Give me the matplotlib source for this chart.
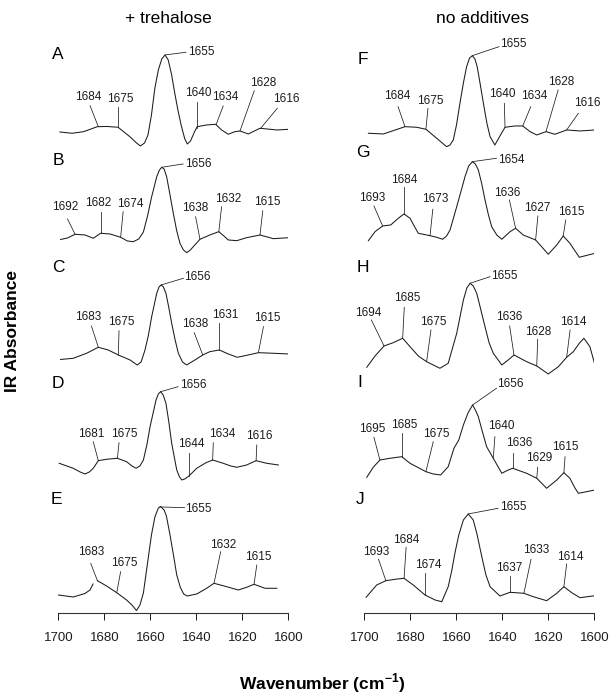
import numpy as np
import matplotlib
matplotlib.use('Agg')
from matplotlib import pyplot as plt

plt.rcParams['font.family'] = ['Liberation Sans', 'DejaVu Sans']
plt.rcParams['mathtext.fontset'] = 'custom'
plt.rcParams['mathtext.rm'] = 'Liberation Sans'
plt.rcParams['mathtext.bf'] = 'Liberation Sans:bold'

nan = np.nan

# ---- spectra (wavenumber, absorbance a.u.) ----
# + trehalose
A_wn = [1699.3, 1694, 1689, 1683, 1679, 1674, 1669, 1666, 1664.3, 1662.5, 1661, 1659.5, 1658, 1656.5, 1655,
        1653.6, 1652.2, 1650.8, 1649.3, 1648, 1646.5, 1645, 1643.9, 1642.5, 1640.8, 1639.6, 1635.5, 1631.6,
        1629, 1626.1, 1623.2, 1621, 1617.4, 1612.3, 1605, 1599.5]
A_abs = [-0.02, -0.033, -0.017, 0.033, 0.035, 0.027, -0.065, -0.13, -0.16, -0.13, -0.05, 0.15, 0.42, 0.6, 0.71,
         0.75, 0.70, 0.56, 0.36, 0.20, 0.04, -0.09, -0.14, -0.11, -0.02, 0.033, 0.05, 0.057,
         0.0, -0.043, -0.017, -0.01, -0.04, 0.017, 0.0, 0.007]

B_wn = [1699, 1696, 1692.7, 1688.4, 1684.8, 1681.6, 1677.5, 1672.9, 1670, 1667.4, 1665, 1663, 1661.2, 1659.4,
        1657.2, 1656, 1655, 1654, 1652.9, 1651.5, 1650, 1648.5, 1647.1, 1645.6, 1644.2, 1642.8, 1641.3,
        1638.4, 1634.1, 1630.2, 1628, 1626.1, 1622.4, 1618.1, 1612.3, 1606.5, 1599.5]
B_abs = [-0.015, 0.0, 0.037, 0.03, -0.003, 0.047, 0.04, 0.007, -0.03, -0.037, -0.01, 0.06, 0.22, 0.413,
         0.613, 0.68, 0.707, 0.69, 0.613, 0.44, 0.247, 0.07, -0.053, -0.12, -0.147, -0.125, -0.087,
         -0.013, 0.03, 0.063, 0.02, -0.02, -0.027, 0.003, 0.03, -0.007, 0.003]

C_wn = [1699, 1693.5, 1687.7, 1682.6, 1678.3, 1673.9, 1668.8, 1665.7, 1664, 1662.3, 1660.8, 1659.4, 1657.2,
        1656.2, 1655.3, 1654.3, 1653.2, 1652, 1650.7, 1649.2, 1647.8, 1646, 1644.2, 1640.6, 1637.2, 1634.1,
        1630.0, 1626.1, 1622.2, 1617.4, 1613.0, 1606.5, 1599.7]
C_abs = [-0.045, -0.033, 0.017, 0.077, 0.05, 0.0, -0.05, -0.10, -0.07, 0.05, 0.2, 0.383, 0.617,
         0.68, 0.70, 0.68, 0.617, 0.48, 0.317, 0.15, 0.017, -0.07, -0.10, -0.05, 0.0, 0.033,
         0.05, 0.01, -0.023, 0.0, 0.023, 0.017, 0.01]

D_wn = [1699.6, 1693.5, 1690.5, 1688.4, 1686.5, 1684.8, 1682.6, 1679.0, 1674.3, 1670.3, 1668, 1666.2, 1664.5,
        1663.0, 1661.5, 1660.1, 1657.5, 1656.5, 1655.5, 1654.4, 1653.2, 1652, 1650.7, 1649.5, 1648.5, 1647.3,
        1646.3, 1645, 1643.2, 1639.8, 1636, 1632.9, 1628.3, 1625, 1622.4, 1618.1, 1614.0, 1609.4, 1604.3]
D_abs = [-0.003, -0.053, -0.09, -0.11, -0.09, -0.053, 0.023, 0.037, 0.047, 0.013, -0.03, -0.053, -0.03,
         0.03, 0.18, 0.363, 0.63, 0.69, 0.713, 0.68, 0.597, 0.42, 0.197, 0.05, -0.07, -0.14,
         -0.17, -0.16, -0.13, -0.053, 0.0, 0.03, -0.003, -0.03, -0.043, -0.02, 0.023, -0.003, -0.02]

E_wn = [1700, 1693.5, 1688.4, 1686.2, 1684.9, 1684.2, 1683.0, 1679, 1674.6, 1670.3, 1668, 1666.0, 1664.5,
        1663, 1661.5, 1659.5, 1658, 1656.5, 1655.5, 1654, 1653, 1651.5, 1650, 1648.5, 1647, 1645.5, 1644,
        1639.8, 1635.5, 1632.3, 1626.8, 1621.7, 1618.1, 1614.9, 1610.1, 1605.0]
E_abs = [-0.05, -0.07, -0.035, 0.0, 0.06, nan, 0.093, 0.04, -0.027, -0.10, -0.15, -0.205, -0.15,
         -0.03, 0.22, 0.55, 0.73, 0.82, 0.835, 0.80, 0.74, 0.56, 0.36, 0.15, 0.03, -0.04, -0.06,
         -0.04, 0.017, 0.067, 0.033, 0.0, 0.027, 0.057, 0.017, 0.017]

# no additives
F_wn = [1698.3, 1691.8, 1687.5, 1682.4, 1677.3, 1673.3, 1668.6, 1664.3, 1662.8, 1661.4, 1660, 1658.5,
        1657, 1655.6, 1654.3, 1653.1, 1652, 1651.0, 1649.7, 1648.3, 1646.8, 1645.4, 1643.3, 1641.1,
        1638.9, 1634.6, 1631.2, 1628.0, 1625.1, 1621.1, 1617.2, 1612.1, 1606.3, 1599.8]
F_abs = [-0.033, -0.04, -0.007, 0.033, 0.027, 0.007, -0.083, -0.167, -0.15, -0.10, 0.05, 0.267,
         0.47, 0.633, 0.72, 0.743, 0.71, 0.633, 0.46, 0.267, 0.07, -0.067, -0.15, -0.06,
         0.027, 0.04, 0.04, -0.017, -0.05, -0.017, -0.043, 0.0, -0.01, 0.0]

G_wn = [1698.3, 1695.4, 1692.1, 1688.6, 1685.3, 1682.8, 1680.2, 1678.4, 1676.6, 1671.5, 1668.6, 1666.0,
        1664.3, 1662.8, 1659.9, 1658, 1656.3, 1654.7, 1653.1, 1651.8, 1650.5, 1649, 1647.6, 1646.1,
        1644.7, 1642.5, 1640.3, 1636.7, 1634.3, 1631.0, 1625.6, 1623.0, 1620.1, 1616.4, 1613.6,
        1610.7, 1606.6, 1599.8]
G_abs = [-0.027, 0.063, 0.12, 0.13, 0.197, 0.24, 0.197, 0.12, 0.047, 0.023, 0.007, -0.013,
         0.02, 0.08, 0.313, 0.47, 0.613, 0.72, 0.763, 0.74, 0.68, 0.54, 0.38, 0.23,
         0.113, 0.03, -0.013, 0.063, 0.097, 0.03, -0.02, -0.087, -0.163, -0.07, 0.02,
         -0.053, -0.193, -0.153]

H_wn = [1699.0, 1695.4, 1691.5, 1687.5, 1683.4, 1680.2, 1676.6, 1673.0, 1667.2, 1663.6, 1659.9, 1657.0,
        1655.5, 1654.1, 1652.7, 1651.2, 1649.5, 1647.6, 1645.8, 1644.0, 1640.3, 1637.5, 1635.0, 1629.5,
        1625.1, 1620.1, 1615.7, 1612.1, 1609.2, 1606.5, 1604.6, 1602.0, 1599.8]
H_abs = [-0.123, -0.01, 0.09, 0.123, 0.167, 0.083, -0.01, -0.067, -0.133, -0.083, 0.217, 0.55,
         0.67, 0.717, 0.69, 0.617, 0.46, 0.283, 0.12, 0.017, -0.10, -0.05, 0.0, -0.067,
         -0.11, -0.19, -0.117, -0.023, 0.033, 0.12, 0.167, 0.083, -0.10]

I_wn = [1699.0, 1696.2, 1693.3, 1688.9, 1683.8, 1680.2, 1673.3, 1670.1, 1666.9, 1663.6, 1661.1, 1659,
        1657.0, 1655, 1653.0, 1651.8, 1650.5, 1648.7, 1646.9, 1644.0, 1640.3, 1637.5, 1635.6, 1629.5,
        1625.1, 1620.8, 1616.4, 1613.3, 1610.7, 1608.5, 1607.0, 1604.1, 1599.8]
I_abs = [-0.073, 0.027, 0.10, 0.117, 0.133, 0.067, -0.017, -0.04, -0.05, 0.033, 0.217, 0.30,
         0.45, 0.57, 0.65, 0.60, 0.533, 0.38, 0.233, 0.117, -0.033, 0.0, 0.017, -0.033,
         -0.083, -0.183, -0.10, -0.027, -0.083, -0.18, -0.233, -0.22, -0.20]

J_wn = [1699.3, 1694.7, 1690.7, 1686.7, 1682.8, 1678.8, 1673.7, 1669.3, 1666.4, 1663.6, 1662, 1660.7,
        1659, 1657.0, 1654.9, 1652.7, 1651, 1649.0, 1647.2, 1645.4, 1641.1, 1636.7, 1630.7, 1626.6,
        1620.8, 1616.4, 1613.3, 1609.9, 1606.3, 1599.8]
J_abs = [-0.073, 0.05, 0.093, 0.107, 0.117, 0.05, -0.05, -0.10, -0.117, 0.033, 0.2, 0.367,
         0.55, 0.70, 0.76, 0.70, 0.55, 0.333, 0.15, 0.033, -0.06, -0.023, -0.033, -0.067,
         -0.107, -0.033, 0.033, -0.027, -0.077, -0.057]

# ---- peak labels and where their leader lines meet the trace ----
A_peaks = [1684, 1675, 1655, 1640, 1634, 1628, 1616]
A_at = [1682.6, 1673.9, 1653.6, 1639.8, 1631.4, 1621.0, 1612.0]
B_peaks = [1692, 1682, 1674, 1656, 1638, 1632, 1615]
B_at = [1692.7, 1681.6, 1672.9, 1655.0, 1638.4, 1630.2, 1612.3]
C_peaks = [1683, 1675, 1656, 1638, 1631, 1615]
C_at = [1682.6, 1673.9, 1655.3, 1637.2, 1630.0, 1613.0]
D_peaks = [1681, 1675, 1656, 1644, 1634, 1616]
D_at = [1682.6, 1674.3, 1655.5, 1643.2, 1632.9, 1614.0]
E_peaks = [1683, 1675, 1655, 1632, 1615]
E_at = [1683.0, 1674.6, 1655.8, 1632.3, 1614.9]
F_peaks = [1684, 1675, 1655, 1640, 1634, 1628, 1616]
F_at = [1682.4, 1673.3, 1653.1, 1638.9, 1631.2, 1621.1, 1612.1]
G_peaks = [1693, 1684, 1673, 1654, 1636, 1627, 1615]
G_at = [1692.1, 1682.8, 1671.5, 1653.1, 1634.3, 1625.6, 1613.6]
H_peaks = [1694, 1685, 1675, 1655, 1636, 1628, 1614]
H_at = [1691.5, 1683.4, 1673.0, 1654.1, 1635.0, 1625.1, 1612.1]
I_peaks = [1695, 1685, 1675, 1656, 1640, 1636, 1629, 1615]
I_at = [1693.3, 1683.8, 1673.3, 1653.0, 1644.0, 1635.6, 1625.1, 1613.3]
J_peaks = [1693, 1684, 1674, 1655, 1637, 1633, 1614]
J_at = [1690.7, 1682.8, 1673.7, 1654.9, 1636.7, 1630.7, 1613.3]

titles = ['+ trehalose', 'no additives']
tick_vals = [1700, 1680, 1660, 1640, 1620, 1600]

# ---- layout: stacking offsets, leader ends, label centres, letter spots ----
layout = {
    'A': dict(off=4.83, letter=(1700.4, 0.75),
              tops=[(1686.2, .243), (1673.9, .227), (1644.5, .777), (1639.8, .283), (1628.3, .24), (1614.8, .393), (1604.8, .217)],
              txt=[(1687.0, .327), (1673.2, .31), (1643.6, .783), (1639.1, .373), (1627.5, .327), (1610.9, .467), (1600.7, .31)]),
    'B': dict(off=3.75, letter=(1700.0, 0.77),
              tops=[(1696.0, .19), (1681.6, .263), (1671.8, .263), (1645.7, .74), (1640.3, .213), (1629.0, .313), (1611.1, .273)],
              txt=[(1697.0, .313), (1682.6, .347), (1668.6, .34), (1645.0, .74), (1640.3, .297), (1626.1, .387), (1609.1, .363)]),
    'C': dict(off=2.58, letter=(1700.0, 0.877),
              tops=[(1685.6, .29), (1673.6, .243), (1645.6, .767), (1640.9, .223), (1630.0, .323), (1610.8, .283)],
              txt=[(1687.0, .383), (1672.6, .327), (1645.2, .783), (1640.3, .31), (1627.5, .40), (1609.1, .367)]),
    'D': dict(off=1.50, letter=(1700.0, 0.79),
              tops=[(1684.8, .213), (1673.6, .203), (1647.9, .763), (1643.2, .103), (1632.6, .203), (1613.7, .18)],
              txt=[(1685.6, .29), (1671.2, .29), (1647.1, .78), (1642.0, .19), (1628.9, .29), (1612.6, .27)]),
    'E': dict(off=0.23, letter=(1700.7, 0.90),
              tops=[(1685.9, .267), (1672.9, .183), (1645.1, .823), (1629.4, .383), (1613.7, .25)],
              txt=[(1685.9, .383), (1671.4, .273), (1644.7, .81), (1628.5, .45), (1613.0, .327)]),
    'F': dict(off=4.83, letter=(1700.5, 0.70),
              tops=[(1685.4, .233), (1672.4, .217), (1641.5, .833), (1639.2, .267), (1627.7, .233), (1615.8, .40), (1607.0, .167)],
              txt=[(1685.7, .34), (1671.3, .293), (1641.2, .86), (1640.2, .36), (1626.3, .34), (1614.3, .483), (1603.3, .273)]),
    'G': dict(off=3.75, letter=(1700.5, 0.85),
              tops=[(1695.9, .32), (1682.8, .513), (1670.3, .287), (1642.6, .797), (1637.0, .38), (1624.6, .22), (1612.5, .18)],
              txt=[(1696.5, .397), (1682.8, .575), (1669.3, .387), (1641.9, .78), (1637.9, .453), (1625.1, .297), (1610.0, .263)]),
    'H': dict(off=2.58, letter=(1700.8, 0.877),
              tops=[(1697.0, .35), (1682.7, .477), (1671.1, .25), (1645.4, .783), (1636.9, .29), (1624.7, .157), (1610.6, .25)],
              txt=[(1698.5, .417), (1681.5, .567), (1670.2, .333), (1645.1, .79), (1636.9, .383), (1624.3, .233), (1609.1, .333)]),
    'I': dict(off=1.43, letter=(1701.9, 0.873),
              tops=[(1695.9, .327), (1683.8, .373), (1670.1, .283), (1642.6, .817), (1643.3, .333), (1635.6, .173), (1624.7, .027), (1612.8, .133)],
              txt=[(1696.5, .407), (1682.8, .45), (1668.6, .36), (1642.2, .86), (1640.7, .44), (1632.8, .267), (1624.0, .117), (1612.5, .233)]),
    'J': dict(off=0.23, letter=(1701.9, 0.907),
              tops=[(1693.9, .307), (1681.9, .427), (1673.7, .167), (1641.9, .817), (1636.7, .14), (1627.6, .307), (1612.1, .26)],
              txt=[(1694.9, .383), (1681.9, .50), (1672.3, .25), (1641.2, .833), (1637.2, .217), (1625.4, .40), (1610.6, .333)]),
}

spectra = {
    'A': (A_wn, A_abs, A_peaks, A_at), 'B': (B_wn, B_abs, B_peaks, B_at),
    'C': (C_wn, C_abs, C_peaks, C_at), 'D': (D_wn, D_abs, D_peaks, D_at),
    'E': (E_wn, E_abs, E_peaks, E_at), 'F': (F_wn, F_abs, F_peaks, F_at),
    'G': (G_wn, G_abs, G_peaks, G_at), 'H': (H_wn, H_abs, H_peaks, H_at),
    'I': (I_wn, I_abs, I_peaks, I_at), 'J': (J_wn, J_abs, J_peaks, J_at),
}

ink = '#1c1c1c'

fig = plt.figure(figsize=(6.13, 7.0), dpi=100)
ax_l = fig.add_axes([0.0951, 0.1243, 0.3752, 0.8329])
ax_r = fig.add_axes([0.5946, 0.1243, 0.3752, 0.8329])


def draw(ax, key):
    wn, ab, peaks, at = spectra[key]
    lay = layout[key]
    off = lay['off']
    wn = np.array(wn)
    y = np.array(ab) + off
    ax.plot(wn, y, color=ink, lw=0.75, solid_joinstyle='round')
    ok = ~np.isnan(y)
    order = np.argsort(wn[ok])
    xs, ys = wn[ok][order], y[ok][order]
    for k, lab in enumerate(peaks):
        yj = np.interp(at[k], xs, ys)
        tx, ty = lay['tops'][k]
        ax.plot([at[k], tx], [yj, ty + off], color=ink, lw=0.55, clip_on=False)
        px, py = lay['txt'][k]
        if abs(lab - 1655) <= 1:
            ax.text(px, py + off, str(lab), ha='left', va='center', fontsize=8.5, color=ink)
        else:
            ax.text(px, py + off, str(lab), ha='center', va='center', fontsize=8.5, color=ink)
    lx, ly = lay['letter']
    ax.text(lx, ly + off, key, ha='center', va='center', fontsize=12.5, color='black')


for ax, keys in [(ax_l, 'ABCDE'), (ax_r, 'FGHIJ')]:
    for key in keys:
        draw(ax, key)
    ax.set_xlim(1700, 1600)
    ax.set_ylim(0, 5.83)
    ax.set_xticks(tick_vals)
    ax.set_xticklabels([str(v) for v in tick_vals], fontsize=9.5)
    ax.tick_params(axis='x', direction='out', length=5, width=0.7, pad=9, colors=ink)
    ax.set_yticks([])
    for s in ['left', 'right', 'top']:
        ax.spines[s].set_visible(False)
    ax.spines['bottom'].set_linewidth(0.8)
    ax.spines['bottom'].set_color('#333333')
    ax.patch.set_alpha(0)

fig.text(0.274, 0.974, titles[0], ha='center', va='center', fontsize=12.5)
fig.text(0.787, 0.974, titles[1], ha='center', va='center', fontsize=12.5)
fig.text(0.020, 0.527, 'IR Absorbance', rotation=90, ha='center', va='center',
         fontsize=12.5, fontweight='bold')
fig.text(0.525, 0.024, r'Wavenumber (cm$^{\mathbf{-1}}$)', ha='center', va='center',
         fontsize=12.5, fontweight='bold')

fig.savefig('out.png', dpi=100)
